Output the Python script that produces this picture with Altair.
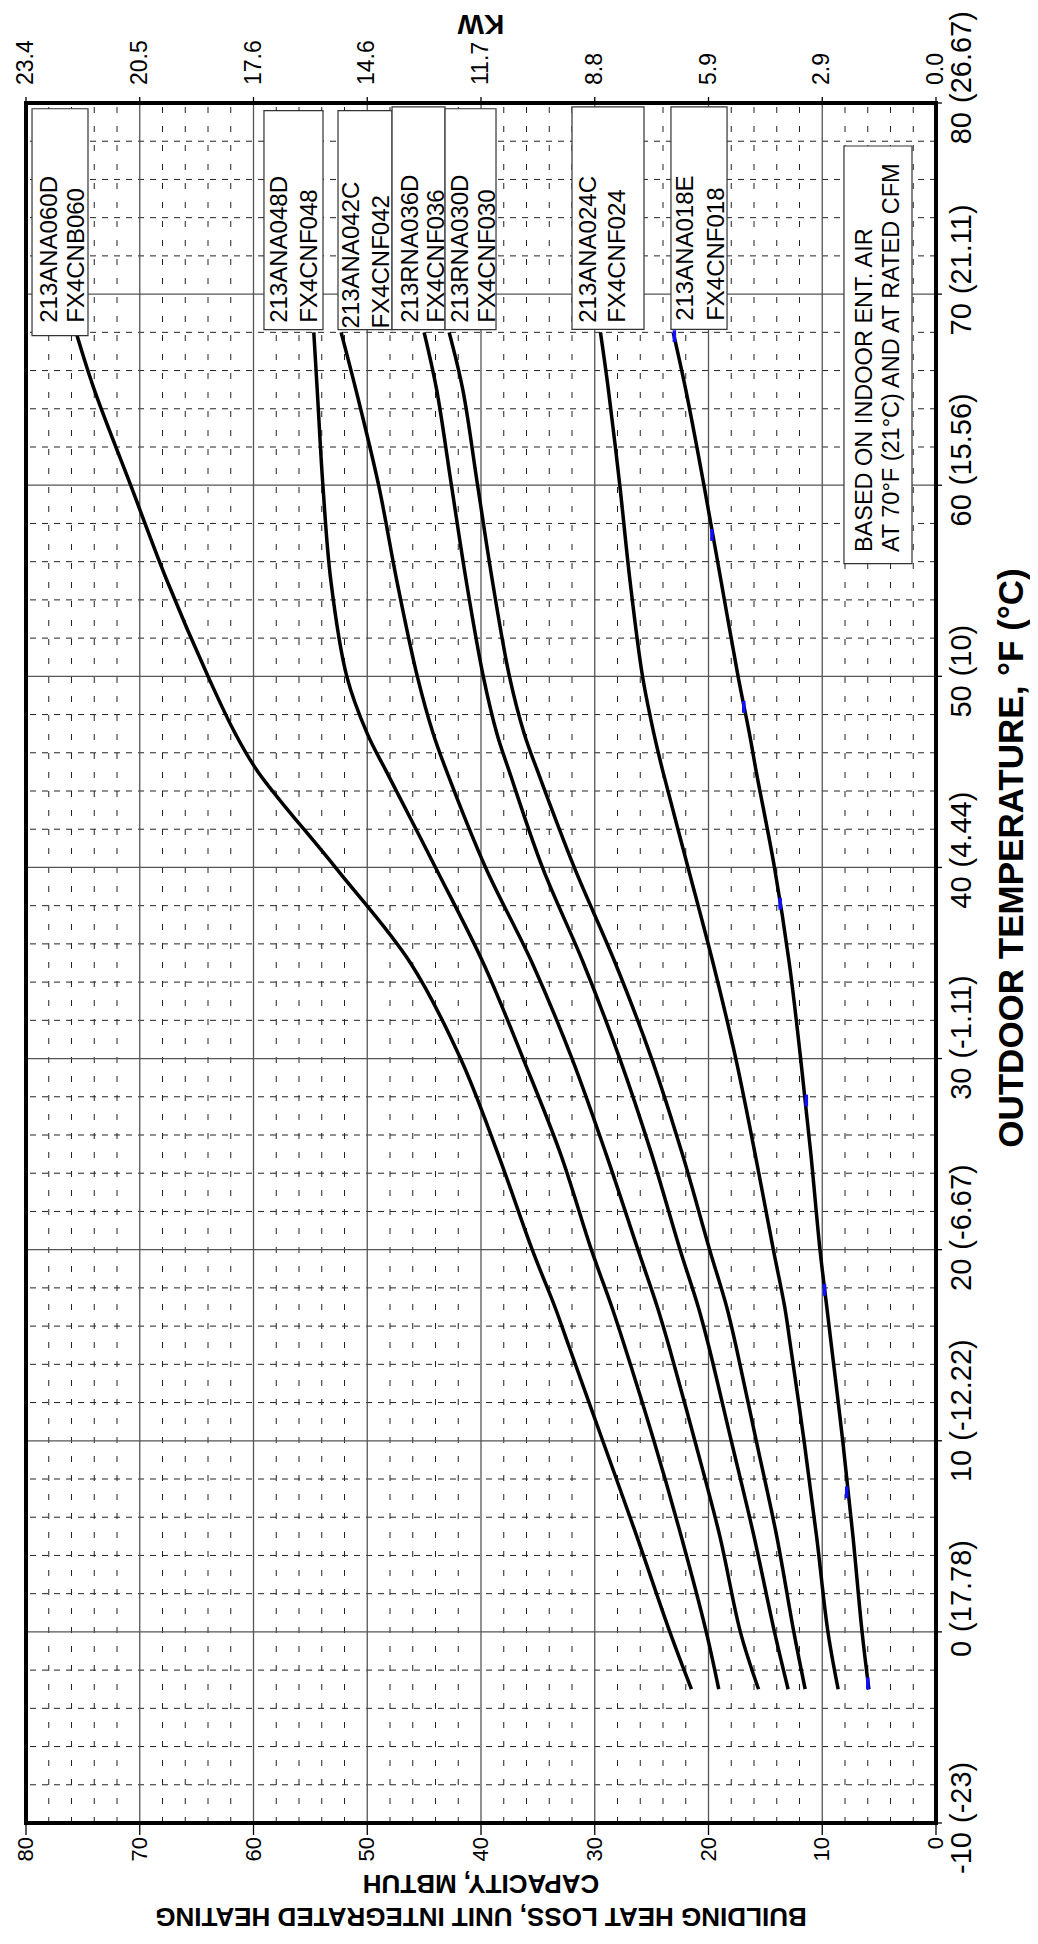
import altair as alt
import pandas as pd

# ---------------- data ----------------
temps = [-3, 0, 5, 10, 15, 17, 20, 25, 30, 35, 40, 45, 47, 50, 55, 60, 65, 68]
cap_060 = [21.5, 23.4, 26.3, 29.3, 32.3, 33.5, 35.5, 38.5, 41.8, 46.2, 52.8, 59.6, 61.6, 64.0, 67.6, 70.8, 74.0, 75.6]
cap_048 = [19.1, 20.2, 22.4, 24.8, 27.4, 28.5, 30.3, 33.0, 36.3, 39.8, 44.0, 48.3, 50.0, 51.8, 53.2, 53.9, 54.4, 54.7]
cap_042 = [15.6, 17.2, 19.0, 21.2, 23.5, 24.5, 26.2, 29.0, 32.0, 35.5, 39.6, 43.0, 44.2, 45.6, 47.4, 49.0, 51.0, 52.3]
cap_036 = [13.0, 14.2, 16.0, 18.0, 20.0, 20.9, 22.5, 25.0, 27.8, 31.0, 34.6, 37.5, 38.6, 39.8, 41.3, 42.6, 43.9, 45.0]
cap_030 = [11.5, 12.5, 14.0, 15.8, 17.6, 18.4, 19.9, 22.3, 25.0, 28.2, 31.8, 35.0, 36.2, 37.5, 39.0, 40.3, 41.6, 42.8]
cap_024 = [8.6, 9.5, 10.5, 11.6, 12.8, 13.3, 14.3, 15.9, 17.6, 19.6, 21.8, 24.0, 24.8, 25.8, 26.9, 27.8, 28.8, 29.5]
cap_018 = [5.9, 6.5, 7.3, 8.2, 9.2, 9.6, 10.2, 11.0, 11.9, 12.9, 14.2, 15.8, 16.4, 17.4, 18.9, 20.4, 22.0, 23.1]
series_names = ["060", "048", "042", "036", "030", "024", "018"]
series_caps = [cap_060, cap_048, cap_042, cap_036, cap_030, cap_024, cap_018]

# blue markers on the 018 curve
blue_t = [-2.7, 7.3, 17.9, 27.8, 38.1, 48.4, 57.4, 67.8]
blue_cap = [6.0, 7.85, 9.8, 11.4, 13.7, 16.9, 19.7, 23.0]

# label boxes
box_line1 = ["213ANA060D", "213ANA048D", "213ANA042C", "213RNA036D", "213RNA030D", "213ANA024C", "213ANA018E"]
box_line2 = ["FX4CNB060", "FX4CNF048", "FX4CNF042", "FX4CNF036", "FX4CNF030", "FX4CNF024", "FX4CNF018"]
box_left = [79.47, 59.08, 52.57, 47.82, 43.16, 32.0, 23.3]
box_right = [74.55, 53.89, 47.82, 43.16, 38.68, 25.67, 18.37]
box_top = [79.7, 79.6, 79.6, 79.8, 79.7, 79.8, 79.8]
box_bottom = [67.83, 68.14, 68.14, 68.14, 68.14, 68.15, 68.15]
line1_cap = [77.9, 57.7, 51.3, 46.15, 41.8, 30.5, 22.0]
line2_cap = [75.5, 55.0, 48.7, 43.9, 39.4, 28.0, 19.25]
text_start = [68.5, 68.5, 68.2, 68.5, 68.5, 68.5, 68.6]

# note box
note_lines = ["BASED ON INDOOR ENT. AIR", "AT 70\u00b0F (21\u00b0C) AND AT RATED CFM"]
note_cap = [6.24, 3.87]
note_box = [8.09, 2.11, 77.75, 55.9]  # cap left, cap right, temp top, temp bottom
note_start = 56.5

# axes
temp_ticks = [-10, 0, 10, 20, 30, 40, 50, 60, 70, 80]
temp_num = ["-10", "0", "10", "20", "30", "40", "50", "60", "70", "80"]
temp_par = ["(-23)", "(17.78)", "(-12.22)", "(-6.67)", "(-1.11)", "(4.44)", "(10)", "(15.56)", "(21.11)", "(26.67)"]
cap_ticks = [0, 10, 20, 30, 40, 50, 60, 70, 80]
cap_labels = ["0", "10", "20", "30", "40", "50", "60", "70", "80"]
kw_labels = ["0.0", "2.9", "5.9", "8.8", "11.7", "14.6", "17.6", "20.5", "23.4"]

x_title = "OUTDOOR TEMPERATURE, \u00b0F (\u00b0C)"
y_title_lines = ["CAPACITY, MBTUH", "BUILDING HEAT LOSS, UNIT INTEGRATED HEATING"]
kw_title = "KW"

# ---------------- layout ----------------
W, H = 910, 1720
REG = "Liberation Sans, Arial, Helvetica, sans-serif"

xs = alt.Scale(domain=[0, 80], reverse=True, nice=False, zero=False)
ys = alt.Scale(domain=[-10, 80], nice=False, zero=False)


def X(f):
    return alt.X(f, type="quantitative", scale=xs, axis=None)


def Y(f):
    return alt.Y(f, type="quantitative", scale=ys, axis=None)


# grid
minor_cap = [v for v in range(2, 80, 2) if v % 10]
minor_t = [v for v in range(-8, 80, 2) if v % 10]
major_cap = [10, 20, 30, 40, 50, 60, 70]
major_t = [0, 10, 20, 30, 40, 50, 60, 70]

vminor = alt.Chart(pd.DataFrame({"c": minor_cap, "a": -10, "b": 80})).mark_rule(
    color="#222", strokeWidth=1, strokeDash=[6, 13]).encode(x=X("c"), y=Y("a"), y2="b")
hminor = alt.Chart(pd.DataFrame({"t": minor_t, "a": 0, "b": 80})).mark_rule(
    color="#222", strokeWidth=1, strokeDash=[6, 6]).encode(y=Y("t"), x=X("a"), x2="b")
vmajor = alt.Chart(pd.DataFrame({"c": major_cap, "a": -10, "b": 80})).mark_rule(
    color="#555", strokeWidth=1.3).encode(x=X("c"), y=Y("a"), y2="b")
hmajor = alt.Chart(pd.DataFrame({"t": major_t, "a": 0, "b": 80})).mark_rule(
    color="#555", strokeWidth=1.3).encode(y=Y("t"), x=X("a"), x2="b")

# curves
rows = []
for name, caps in zip(series_names, series_caps):
    for t, c in zip(temps, caps):
        rows.append({"model": name, "T": t, "cap": c})
curves = alt.Chart(pd.DataFrame(rows)).mark_line(
    color="black", strokeWidth=3.5, interpolate="catmull-rom", strokeCap="butt").encode(
    x=X("cap"), y=Y("T"), detail="model:N", order=alt.Order("T:Q"))

blue = alt.Chart(pd.DataFrame({"T": blue_t, "cap": blue_cap})).mark_point(
    shape="M0,-1L0,1", stroke="#1010ff", strokeWidth=3.5, size=140, filled=False, opacity=1).encode(
    x=X("cap"), y=Y("T"))

# label boxes
boxes_df = pd.DataFrame({"l": box_left, "r": box_right, "t": box_top, "b": box_bottom})
boxes = alt.Chart(boxes_df).mark_rect(fill="white", stroke="#333", strokeWidth=1.2).encode(
    x=X("l"), x2="r", y=Y("b"), y2="t")
bt_df = pd.DataFrame({"txt": box_line1 + box_line2,
                      "c": line1_cap + line2_cap,
                      "s": text_start + text_start})
box_text = alt.Chart(bt_df).mark_text(
    angle=270, align="left", baseline="middle", font=REG, fontSize=24, color="black").encode(
    x=X("c"), y=Y("s"), text="txt:N")

note_rect = alt.Chart(pd.DataFrame({"l": [note_box[0]], "r": [note_box[1]],
                                    "t": [note_box[2]], "b": [note_box[3]]})).mark_rect(
    fill="white", stroke="#333", strokeWidth=1.2).encode(x=X("l"), x2="r", y=Y("b"), y2="t")
note_text = alt.Chart(pd.DataFrame({"txt": note_lines, "c": note_cap, "s": [note_start, note_start]})).mark_text(
    angle=270, align="left", baseline="middle", font=REG, fontSize=23.5, color="black").encode(
    x=X("c"), y=Y("s"), text="txt:N")

# frame
frame = alt.Chart(pd.DataFrame({"l": [80], "r": [0], "b": [-10], "t": [80]})).mark_rect(
    fillOpacity=0, stroke="black", strokeWidth=4).encode(x=X("l"), x2="r", y=Y("b"), y2="t")

# outside ticks
bticks = alt.Chart(pd.DataFrame({"c": cap_ticks})).mark_rule(color="black", strokeWidth=1.3).encode(
    x=X("c"), y=alt.value(H), y2=alt.value(H + 12))
tticks = alt.Chart(pd.DataFrame({"c": cap_ticks})).mark_rule(color="black", strokeWidth=1.3).encode(
    x=X("c"), y=alt.value(-6), y2=alt.value(0))
rticks = alt.Chart(pd.DataFrame({"t": temp_ticks})).mark_rule(color="black", strokeWidth=1.3).encode(
    y=Y("t"), x=alt.value(W), x2=alt.value(W + 6))

# tick labels
tdf = pd.DataFrame({"t": temp_ticks, "num": temp_num, "par": temp_par})
r_num = alt.Chart(tdf).mark_text(angle=270, align="right", baseline="middle", dx=-9,
                                 font=REG, fontSize=29, color="black").encode(
    y=Y("t"), x=alt.value(W + 26), text="num:N")
r_par = alt.Chart(tdf).mark_text(angle=270, align="left", baseline="middle", dx=0,
                                 font=REG, fontSize=29, color="black").encode(
    y=Y("t"), x=alt.value(W + 26), text="par:N")
cdf = pd.DataFrame({"c": cap_ticks, "lab": cap_labels, "kw": kw_labels})
b_lab = alt.Chart(cdf).mark_text(angle=270, align="right", baseline="middle",
                                 font=REG, fontSize=22, color="black").encode(
    x=X("c"), y=alt.value(H + 14), text="lab:N")
t_lab = alt.Chart(cdf).mark_text(angle=270, align="left", baseline="middle",
                                 font=REG, fontSize=23, color="black").encode(
    x=X("c"), y=alt.value(-18), text="kw:N")

# titles
xt = alt.Chart(pd.DataFrame({"s": [x_title]})).mark_text(
    angle=270, align="center", baseline="middle", font=REG, fontWeight="bold", fontSize=35,
    color="black").encode(x=alt.value(W + 76), y=alt.value(755), text="s:N")
kwt = alt.Chart(pd.DataFrame({"s": [kw_title]})).mark_text(
    angle=180, align="center", baseline="middle", font=REG, fontWeight="bold", fontSize=28,
    color="black").encode(x=alt.value(W / 2), y=alt.value(-80), text="s:N")
yt1 = alt.Chart(pd.DataFrame({"s": [y_title_lines[0]]})).mark_text(
    angle=180, align="center", baseline="middle", font=REG, fontWeight="bold", fontSize=26,
    color="black").encode(x=alt.value(W / 2), y=alt.value(H + 60), text="s:N")
yt2 = alt.Chart(pd.DataFrame({"s": [y_title_lines[1]]})).mark_text(
    angle=180, align="center", baseline="middle", font=REG, fontWeight="bold", fontSize=26,
    color="black").encode(x=alt.value(W / 2), y=alt.value(H + 93), text="s:N")

chart = alt.layer(
    vminor, hminor, vmajor, hmajor, curves, blue, boxes, box_text, note_rect, note_text,
    frame, bticks, tticks, rticks, r_num, r_par, b_lab, t_lab, xt, kwt, yt1, yt2
).properties(
    width=W, height=H,
    autosize=alt.AutoSizeParams(type="none"),
    padding={"left": 18, "top": 95, "right": 94, "bottom": 113},
    background="white",
).configure_view(strokeWidth=0)

chart.save("out.html", embed_options={"renderer": "svg", "actions": False})
